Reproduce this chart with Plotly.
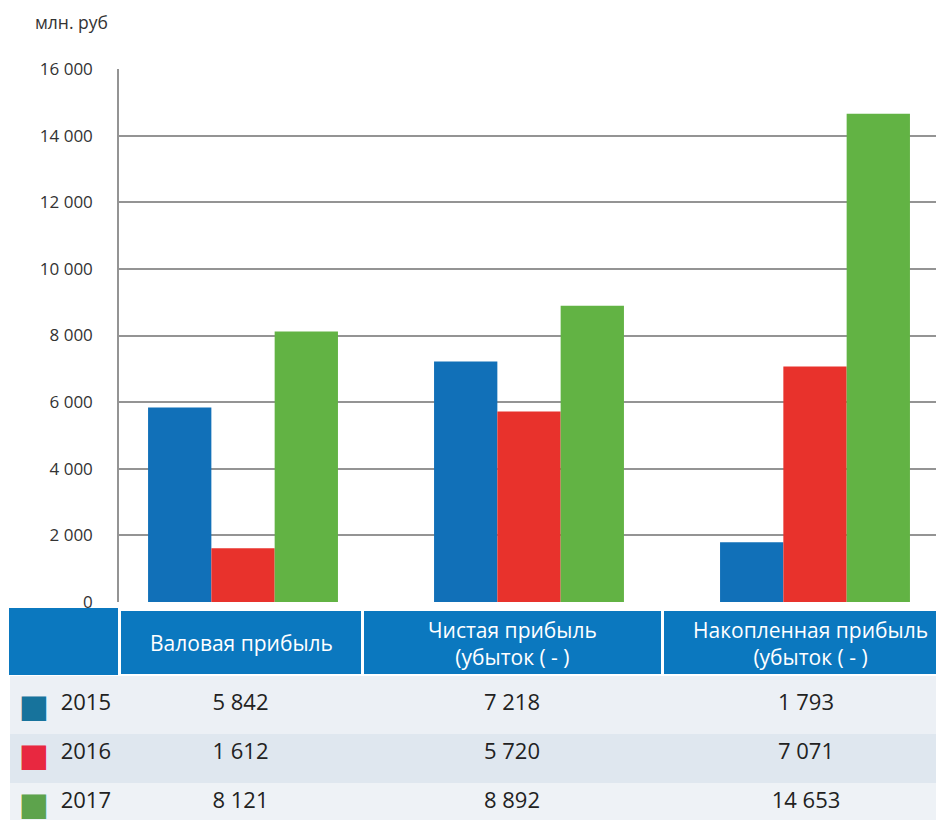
import plotly.graph_objects as go

categories = ['Валовая прибыль', 'Чистая прибыль<br>(убыток ( - )', 'Накопленная прибыль<br>(убыток ( - )']
years = ['2015', '2016', '2017']
values_2015 = [5842, 7218, 1793]
values_2016 = [1612, 5720, 7071]
values_2017 = [8121, 8892, 14653]
bar_colors = ['#1170b8', '#e8322c', '#62b344']
swatch_colors = ['#17739c', '#e82840', '#5da34c']

series = [values_2015, values_2016, values_2017]

# страница сдвигает график на 8px, поэтому считаем в пикселях экрана
W, H, OFF = 952, 828, 8


def px_x(x):
    return (x - OFF) / W


def px_y(y):
    return 1 - (y - OFF) / H


fig = go.Figure()
for year, vals, col in zip(years, series, bar_colors):
    fig.add_trace(go.Bar(x=[0, 1, 2], y=vals, name=year, marker_color=col,
                         marker_line_width=0, showlegend=False))


def fmt(v):
    return f'{v:,}'.replace(',', ' ')


header_blue = '#0b78bf'
colwidths = [47, 62, 243, 300, 288]

# строки таблицы: квадратик цвета, год, значения по категориям
cols = [['■'] * 3, years] + [[fmt(s[i]) for s in series] for i in range(3)]
row_fills = ['#ecf0f5', '#dfe7ef', '#eef2f6']
fig.add_trace(go.Table(
    domain=dict(x=[px_x(10), px_x(950)], y=[0, px_y(676)]),
    columnwidth=colwidths,
    header=dict(values=[''] * 5, height=9, font=dict(size=1), fill_color=row_fills[0],
                line=dict(width=0)),
    cells=dict(values=cols, fill_color=[row_fills] * 5,
               line=dict(color='white', width=0),
               font=dict(color=[swatch_colors, ['#222222'] * 3] + [['#222222'] * 3] * 3,
                         size=[32, 22, 22, 22, 22],
                         family=['DejaVu Sans', 'Open Sans', 'Open Sans', 'Open Sans', 'Open Sans']),
               align=['right', 'right', 'center', 'center', 'center'], height=49),
))

# шапка таблицы (только заливка, текст - аннотациями)
fig.add_trace(go.Table(
    domain=dict(x=[px_x(10), px_x(950)], y=[px_y(675), px_y(609)]),
    columnwidth=colwidths,
    header=dict(values=[''] * 5, fill_color=header_blue,
                line=dict(color=[header_blue, header_blue, 'white', 'white', 'white'], width=3),
                height=66),
    cells=dict(values=[['']] * 5, fill_color='white', line=dict(width=0)),
))

header_x = [241, 512, 810]
annotations = [dict(text='млн. руб', xref='paper', yref='paper', x=px_x(33),
                    y=px_y(22), xanchor='left', yanchor='middle',
                    showarrow=False, font=dict(size=17.5, color='#333333'))]
for cat, hx in zip(categories, header_x):
    annotations.append(dict(text=cat, xref='paper', yref='paper', x=px_x(hx),
                            y=px_y(643), xanchor='center', yanchor='middle', align='center',
                            showarrow=False, font=dict(size=21, color='white')))

fig.update_layout(
    width=W, height=H,
    margin=dict(l=0, r=0, t=0, b=0, autoexpand=False),
    paper_bgcolor='white', plot_bgcolor='white',
    barmode='group', bargap=0.336, bargroupgap=0,
    separators=', ',
    font=dict(family='Open Sans', color='#333333'),
    xaxis=dict(domain=[px_x(119), 1], range=[-0.4336, 2.507], automargin=False,
               showticklabels=False, showgrid=False, zeroline=False),
    yaxis=dict(domain=[px_y(602), px_y(69)], range=[0, 16000], automargin=False,
               dtick=2000, tickformat=',d', showgrid=True, gridcolor='#949494',
               gridwidth=1.5, zeroline=False, showline=True, linecolor='#949494',
               linewidth=1.5, ticks='outside', ticklen=21, tickcolor='white',
               tickfont=dict(size=17, color='#333333')),
    annotations=annotations,
)

fig.write_html('out.html')
